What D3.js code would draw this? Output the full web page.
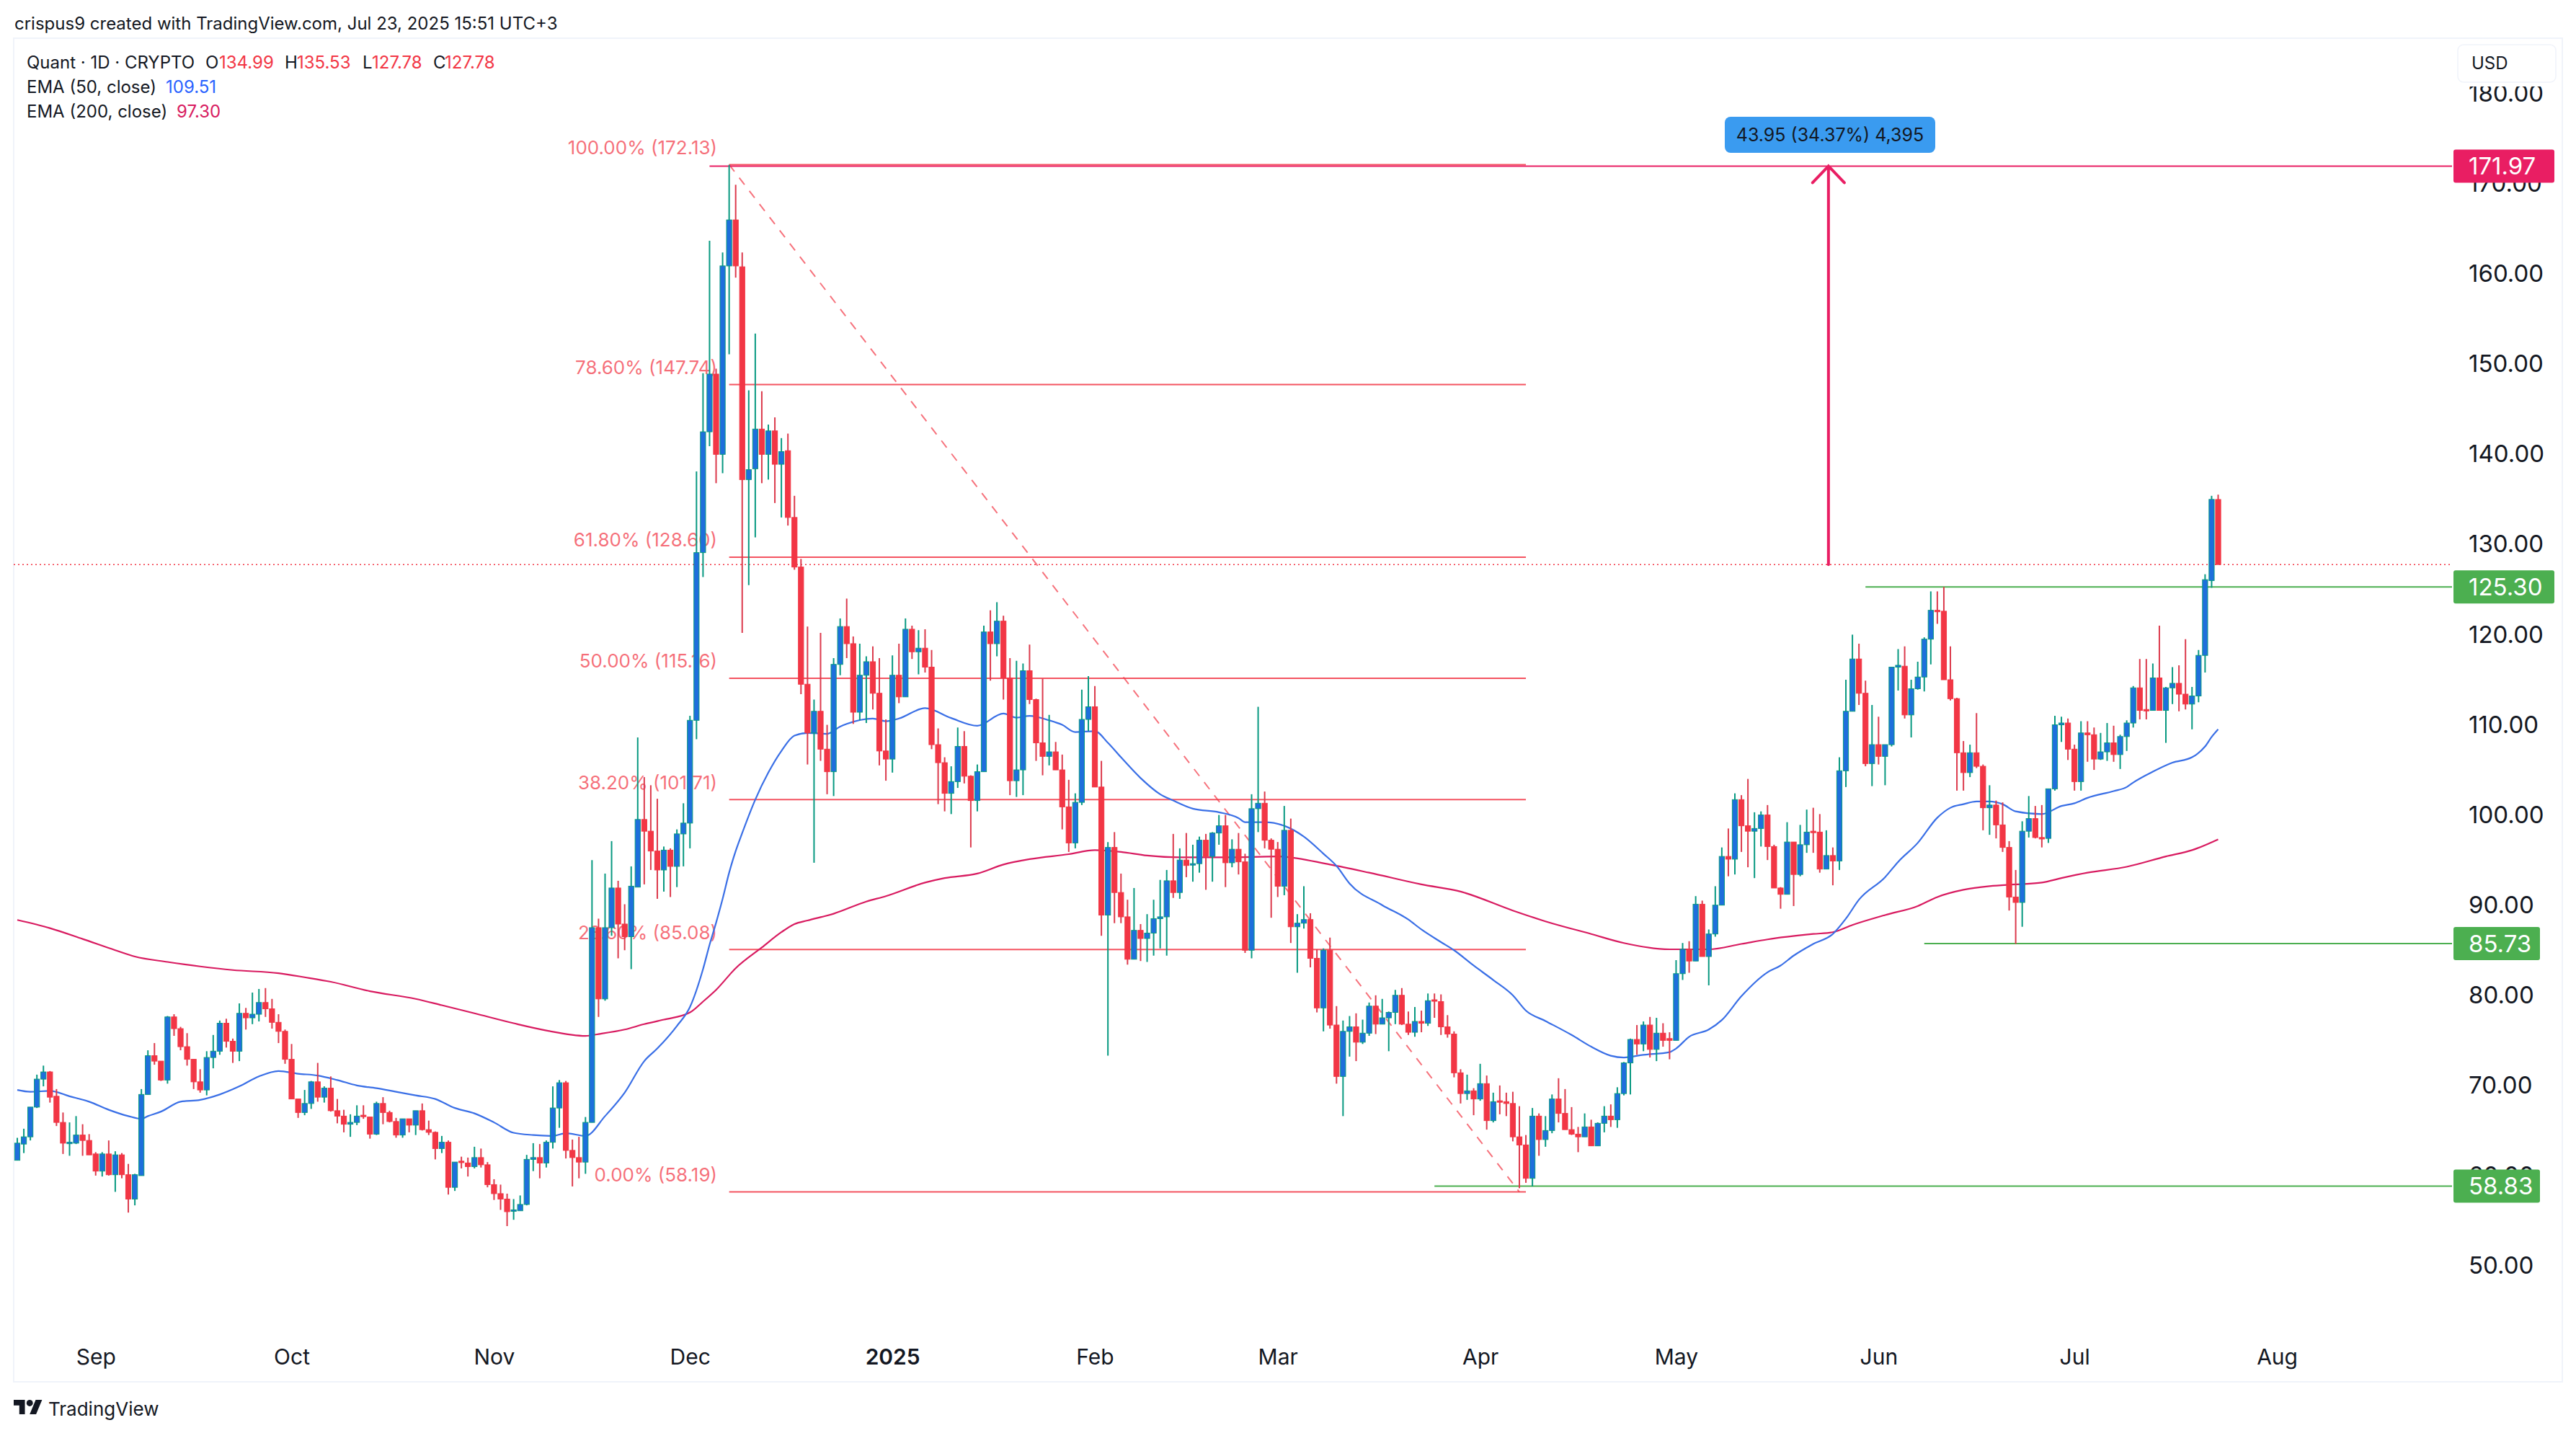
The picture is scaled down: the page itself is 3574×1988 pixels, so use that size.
<!DOCTYPE html>
<html>
<head>
<meta charset="utf-8">
<title>Quant 1D</title>
<script src="https://cdn.jsdelivr.net/npm/d3@7/dist/d3.min.js"></script>
<style>
  html, body { margin: 0; padding: 0; background: #fff; }
  svg { display: block; font-family: Inter, Roboto, sans-serif; }
  .tick text { fill: #131722; }
</style>
</head>
<body>
<div id="chart"></div>
<script>
// Daily candles, first bar is Aug 20 2024, last is Jul 23 2025
var firstDay = new Date(Date.UTC(2024, 7, 20));

var opens = [
  61.7,63.5,64.3,67.6,70.7,71.5,68.8,65.9,63.6,63.6,64.5,63.9,62.4,60.5,62.4,60.1,62.3,60.1,57.4,60.0,
  69.0,73.3,72.7,70.6,77.6,76.3,74.3,72.9,70.4,69.5,73.1,73.8,76.9,74.9,73.8,78.0,77.5,77.9,79.2,78.5,
  77.0,76.0,72.9,68.5,67.0,68.0,70.4,68.7,69.7,67.2,66.6,65.7,65.9,66.7,66.5,64.6,68.0,67.0,66.0,64.5,
  66.3,65.6,67.2,65.1,64.8,63.0,63.7,58.7,61.6,61.4,61.0,62.0,61.2,59.0,58.0,57.4,56.1,56.1,56.8,61.8,
  62.0,61.4,63.7,67.5,70.3,62.8,62.0,61.5,65.9,87.5,79.6,87.5,91.9,87.9,86.5,92.0,99.5,98.2,96.0,93.9,
  96.1,94.3,97.9,99.1,110.5,129.1,142.5,148.9,140.0,160.9,166.0,160.8,137.2,138.4,142.8,140.0,142.6,138.9,140.4,133.0,
  127.5,114.5,109.1,111.5,107.3,104.8,116.7,120.9,119.0,111.4,115.5,117.0,113.5,107.1,106.2,115.5,113.1,120.6,118.1,118.5,
  116.4,107.8,105.8,102.4,103.7,107.6,104.3,101.6,104.8,120.3,119.0,121.5,115.2,103.8,105.0,116.0,112.8,108.0,106.5,107.0,
  105.0,100.9,96.9,101.4,110.6,112.0,103.1,88.9,96.4,91.4,88.7,84.0,87.2,86.3,86.9,88.5,88.7,92.7,91.4,95.0,
  94.5,94.6,97.2,95.4,98.0,98.8,94.7,96.2,94.8,85.0,100.7,101.3,97.2,96.2,92.1,98.3,87.6,88.0,88.4,84.1,
  78.6,85.0,76.7,71.0,76.0,76.5,74.8,75.8,78.8,76.8,77.5,78.1,80.0,76.8,75.9,77.1,76.9,79.5,79.3,76.5,
  75.7,71.4,69.1,69.4,68.5,70.2,66.1,68.3,68.2,68.0,64.3,63.4,59.7,66.6,64.0,65.0,68.5,66.9,65.1,64.6,
  64.3,65.4,63.3,65.8,66.6,66.2,69.1,72.5,75.1,74.6,76.7,74.0,75.8,75.2,75.0,82.4,85.1,83.8,90.1,84.3,
  86.8,90.0,95.4,95.1,101.7,98.8,98.2,98.5,100.0,96.5,91.9,91.2,97.0,93.4,96.7,98.2,98.1,94.0,95.5,94.9,
  104.9,111.5,117.3,113.5,105.7,107.8,106.5,107.8,116.4,116.5,111.1,114.0,115.3,119.5,122.7,122.6,115.0,112.9,106.9,104.7,
  106.9,105.4,100.8,101.1,98.9,96.4,90.9,90.3,98.2,99.6,97.5,97.4,102.9,110.0,110.2,107.3,103.7,109.1,108.9,106.2,
  107.0,108.0,106.7,108.7,110.2,114.1,111.7,111.6,115.2,111.6,114.1,114.6,113.4,112.3,113.2,117.7,126.0,134.99
];

var highs = [
  64.2,65.2,67.6,71.2,72.2,71.6,69.6,67.0,65.9,66.6,65.7,64.6,62.6,62.6,63.9,62.7,62.5,61.3,60.2,69.6,
  73.9,74.7,72.7,77.7,77.9,76.5,75.8,72.9,71.8,73.8,75.6,77.2,77.4,75.2,79.1,78.6,80.3,80.7,80.8,79.6,
  77.9,76.2,74.6,68.5,69.5,70.5,72.5,69.9,71.0,68.5,67.3,66.8,67.8,67.8,66.5,68.2,68.7,67.2,66.4,66.3,
  66.3,67.2,68.0,66.1,64.9,64.4,63.9,61.5,62.1,62.0,63.2,63.0,61.5,59.6,59.0,58.0,57.4,57.8,62.3,63.6,
  63.5,63.9,69.9,70.6,70.5,64.0,64.3,66.5,95.0,88.5,93.5,97.1,92.7,90.1,94.3,108.6,104.2,103.3,101.8,96.5,
  96.3,98.4,101.3,111.0,138.1,149.0,163.7,149.5,162.4,172.1,169.9,162.4,147.1,153.4,147.0,143.3,144.1,141.8,142.3,135.4,
  128.4,120.9,112.8,120.2,110.0,117.4,121.8,124.0,119.8,119.0,117.6,118.7,117.4,110.6,117.7,119.0,121.8,121.0,120.5,120.6,
  118.3,109.6,106.4,105.4,109.7,109.3,104.4,105.6,121.0,122.7,123.6,122.1,117.4,117.1,116.8,118.9,112.9,115.1,111.1,108.1,
  106.7,103.9,102.4,113.9,115.4,114.3,106.0,97.0,98.1,93.5,90.6,91.9,87.9,89.0,90.6,92.8,93.9,97.9,96.3,98.0,
  96.7,97.6,97.9,98.1,100.0,100.0,97.3,98.0,95.7,102.3,112.0,102.6,97.4,97.0,101.0,99.6,89.0,92.1,89.1,85.1,
  85.2,86.4,78.8,77.2,77.7,78.0,77.3,79.2,80.0,79.6,78.2,80.6,80.8,78.2,78.7,78.3,80.2,80.2,80.1,77.8,
  76.0,71.8,71.2,69.7,72.4,71.1,69.2,70.0,69.2,69.3,67.7,64.5,67.5,66.9,66.6,69.0,70.8,69.6,67.6,65.4,
  66.9,66.2,65.9,67.7,67.9,69.8,72.6,75.2,76.7,77.1,77.6,77.5,76.9,75.9,83.9,85.8,86.0,91.0,90.5,87.3,
  92.1,96.4,98.5,102.4,102.2,104.0,100.3,100.4,101.1,96.7,92.0,99.2,97.0,98.9,100.6,100.8,100.1,98.3,96.4,106.4,
  115.0,120.0,119.0,114.9,112.2,110.9,107.8,116.4,118.4,118.7,115.0,117.0,119.7,124.8,124.8,125.3,118.7,113.0,108.2,107.8,
  111.3,105.6,103.3,101.6,101.4,97.1,93.9,99.3,102.1,101.0,101.1,102.9,111.0,110.9,110.7,107.8,110.4,110.4,109.7,109.1,
  110.2,109.9,108.9,110.5,114.3,117.3,117.3,116.8,121.0,114.2,116.4,116.6,119.5,114.2,118.3,126.7,135.4,135.53
];

var lows = [
  61.7,62.5,63.9,67.5,69.9,68.1,65.5,62.4,62.2,63.5,62.2,62.3,60.0,59.9,60.0,58.2,59.7,55.9,56.7,60.0,
  69.0,72.3,70.5,70.2,75.5,73.9,72.2,69.6,69.2,68.9,71.9,73.4,74.2,72.5,72.7,76.2,76.8,77.1,77.6,76.3,
  74.7,72.4,68.5,66.4,66.7,67.4,68.2,68.1,67.1,65.8,64.8,64.3,65.6,66.3,64.1,64.5,65.7,65.9,64.2,64.2,
  64.8,64.5,65.0,64.5,61.8,62.5,57.9,58.3,60.8,59.9,60.8,60.9,58.7,57.3,56.2,54.4,55.1,56.1,56.7,60.5,
  59.7,60.9,63.0,65.3,61.9,58.8,59.7,60.2,65.9,77.6,79.4,86.6,84.1,85.0,82.9,92.0,92.3,93.9,90.7,91.5,
  90.9,92.0,94.3,96.3,108.4,126.4,140.9,136.8,137.9,151.1,159.6,120.2,125.5,130.8,136.8,137.2,134.6,133.0,132.1,127.2,
  113.4,105.6,94.7,106.0,102.3,102.1,115.5,117.4,110.1,110.5,110.2,111.7,105.5,103.8,104.7,112.4,113.1,117.3,115.6,115.8,
  107.3,101.2,100.4,100.1,103.0,103.5,96.4,100.4,104.8,114.9,117.6,112.8,102.2,102.0,102.2,112.3,106.0,104.4,105.5,105.0,
  98.4,95.9,96.3,101.1,109.3,103.1,86.6,73.3,88.0,88.0,83.4,84.0,83.8,83.7,84.4,85.2,84.4,90.8,90.7,93.1,
  92.6,93.6,91.7,92.6,96.7,92.0,94.2,93.4,84.7,84.1,98.1,96.3,88.6,90.9,91.1,85.8,82.5,87.4,83.1,78.1,
  76.0,76.3,70.2,66.6,73.2,72.7,74.6,75.5,75.7,76.8,73.8,76.8,76.7,75.6,75.4,75.9,76.6,77.5,75.6,75.3,
  70.9,68.0,68.4,66.7,68.3,65.1,65.9,66.8,66.6,63.8,58.6,59.2,58.8,62.2,63.2,64.7,65.9,65.1,64.5,62.6,
  64.3,63.3,63.3,64.8,65.4,65.3,68.9,69.0,73.4,73.8,73.1,72.7,74.3,72.9,75.0,81.7,82.5,83.8,84.3,81.1,
  86.5,90.0,93.2,93.4,95.9,94.2,93.0,96.5,95.0,91.9,89.6,91.2,89.9,93.2,95.8,95.8,93.6,94.0,92.2,93.9,
  103.1,111.5,112.2,105.4,103.2,105.6,103.3,107.6,113.8,110.7,108.6,113.9,113.7,116.7,121.2,115.0,112.7,102.7,102.7,104.2,
  105.2,98.3,97.8,97.4,95.9,89.4,85.7,87.6,97.5,97.4,96.4,96.9,102.7,108.1,106.1,102.7,102.7,105.9,105.0,106.1,
  106.0,105.9,105.1,107.1,109.7,110.6,110.6,111.6,111.6,108.0,112.3,111.5,111.7,109.5,112.5,115.8,125.2,127.78
];

var closes = [
  63.6,64.3,67.6,70.7,71.5,68.7,65.9,63.6,63.7,64.5,63.9,62.3,60.5,62.4,60.1,62.3,60.1,57.4,60.1,69.0,
  73.3,72.7,70.6,77.6,76.3,74.3,72.9,70.4,69.5,73.1,73.8,76.9,74.9,73.8,78.0,77.5,77.9,79.2,78.5,77.0,
  76.0,72.9,68.5,67.0,68.0,70.4,68.7,69.7,67.2,66.6,65.7,65.9,66.6,66.6,64.6,68.0,67.0,66.0,64.5,66.3,
  65.6,67.2,65.1,64.8,63.0,63.7,58.7,61.5,61.5,61.0,62.0,61.2,59.0,58.0,57.4,56.0,56.2,56.8,61.8,62.0,
  61.4,63.7,67.5,70.3,62.8,62.0,61.5,65.9,87.5,79.6,87.5,91.9,87.9,86.5,92.1,99.5,98.2,96.0,93.9,96.1,
  94.3,97.9,99.1,110.5,129.1,142.5,148.9,140.0,160.9,166.0,160.9,137.2,138.3,142.8,140.0,142.6,138.9,140.3,133.0,127.5,
  114.5,109.1,111.5,107.3,104.8,116.7,120.9,119.0,111.4,115.5,117.0,113.5,107.1,106.2,115.5,113.1,120.6,118.1,118.5,116.4,
  107.8,105.8,102.4,103.7,107.6,104.3,101.6,104.8,120.3,119.0,121.5,115.2,103.8,105.0,116.0,112.8,108.0,106.5,107.0,105.0,
  100.9,96.9,101.4,110.6,112.0,103.1,88.9,96.4,91.4,88.7,84.0,87.2,86.3,86.9,88.5,88.7,92.7,91.4,95.0,94.4,
  94.6,97.2,95.4,98.0,98.8,94.7,96.2,94.8,85.0,100.7,101.3,97.2,96.2,92.1,98.3,87.6,88.0,88.4,84.1,78.6,
  85.0,76.7,71.0,76.0,76.5,74.8,75.8,78.8,76.8,77.5,78.1,80.0,76.8,75.9,77.1,76.9,79.4,79.4,76.5,75.7,
  71.4,69.1,69.4,68.5,70.2,66.1,68.2,68.2,68.0,64.3,63.4,59.7,66.6,64.0,65.0,68.5,66.9,65.1,64.6,64.3,
  65.4,63.3,65.8,66.6,66.2,69.1,72.5,75.1,74.6,76.7,74.0,75.8,75.0,75.0,82.4,85.1,83.8,90.1,84.3,86.8,
  90.0,95.4,95.1,101.7,98.8,98.2,98.5,100.0,96.5,91.9,91.2,97.0,93.4,96.7,98.1,98.1,94.0,95.5,94.9,104.9,
  111.5,117.3,113.5,105.7,107.8,106.5,107.8,116.4,116.6,111.1,114.0,115.3,119.5,122.7,122.6,115.0,112.9,106.9,104.7,106.9,
  105.4,100.8,101.1,98.9,96.4,90.9,90.3,98.2,99.6,97.5,97.4,102.9,110.0,110.2,107.3,103.7,109.1,108.9,106.2,107.0,
  108.0,106.7,108.7,110.2,114.1,111.6,111.6,115.2,111.6,114.1,114.6,113.4,112.3,113.2,117.7,126.1,135.0,127.78
];

// EMA lines, read at these bar numbers
var ema50Bars = [0,2,5,8,11,14,17,19,20,22,25,28,31,34,37,40,43,46,49,52,55,58,61,64,67,70,73,76,79,82,84,87,90,93,96,98,101,103,105,106,107,108,109,110,111,113,115,117,119,121,124,126,127,131,133,135,139,143,147,151,153,155,158,160,162,165,167,169,172,175,177,180,184,187,188,191,194,197,200,202,204,209,213,215,218,220,223,226,229,231,234,238,241,244,246,249,253,254,256,259,261,264,268,270,272,275,278,280,282,286,288,291,294,296,298,300,302,304,306,310,313,315,317,321,323,324,327,330,333,335,336,337];
var ema50Values = [69.5,69.3,69.4,68.8,68.2,67.3,66.6,66.3,66.6,67.1,68.2,68.4,69.0,69.9,71.0,71.6,71.3,71.1,70.6,70.0,69.7,69.3,68.9,68.5,67.5,66.9,65.9,64.75,64.5,64.4,64.7,64.4,66.6,69.2,72.7,74.1,76.6,78.7,82.9,85.6,88.05,90.7,93.6,96.0,98.0,101.7,104.7,107.1,108.8,109.1,109,109.8,110.1,110.7,110.4,110.7,111.85,110.75,109.9,111.25,110.8,111,110.5,110,109.2,109.3,108,106.4,104.1,102.3,101.6,100.7,100.3,99.65,99.2,99.2,98.8,97.6,95.7,94.35,92.4,90,88.4,87.3,85.9,85,83.3,81.7,80,78.3,77.15,75.6,74.3,73.3,73.1,73.4,73.7,74.1,75.4,76.2,77.25,79.9,82.55,83.3,84.4,85.7,86.8,88.5,90.6,93.1,94.8,96.9,99.7,100.8,101.2,101.5,101.5,101.2,100.4,100.1,101,101.3,101.9,102.65,103.1,103.6,104.8,105.8,106.4,107.6,108.65,109.51];
var ema200Bars = [0,5,10,15,18,23,28,33,40,44,48,54,61,65,70,76,81,87,89,93,96,99,103,105,107,110,114,117,119,121,125,130,133,139,142,147,151,155,161,165,169,173,178,185,193,201,207,215,221,229,234,241,246,253,259,264,268,275,278,281,286,291,294,298,302,306,310,313,317,323,329,333,337];
var ema200Values = [88.36,87.45,86.25,85,84.3,83.7,83.2,82.8,82.45,82,81.5,80.45,79.6,78.9,78,76.9,76.1,75.5,75.7,76.2,76.8,77.3,78.1,79.3,80.6,83.0,85.3,87.0,87.9,88.3,89.05,90.4,91,92.5,93,93.5,94.5,95.1,95.65,96.1,95.9,95.5,95.3,95.3,95.4,94.5,93.6,92.3,91.5,89.4,88.2,86.8,85.8,85.1,85.1,85.7,86.2,86.8,87,87.8,88.9,89.9,90.9,91.7,92.1,92.3,92.5,93,93.6,94.25,95.4,96.1,97.3];

// Fib retracement drawn from the Dec high to the Apr low
var fibPercents = ["100.00%", "78.60%", "61.80%", "50.00%", "38.20%", "23.60%", "0.00%"];
var fibPrices = [172.13, 147.74, 128.60, 115.16, 101.71, 85.08, 58.19];
var fibStartBar = 109, fibEndBar = 230, fibRightBar = 231;

// Horizontal levels with a price tag on the axis
var levelPrices = [171.97, 125.30, 85.73, 58.83];
var levelStartBars = [106, 283, 292, 217];
var levelKinds = ["pink", "green", "green", "green"];

var lastPrice = 127.78;
var measureBar = 277;
var measureText = "43.95 (34.37%) 4,395";

var priceTicks = [50, 60, 70, 80, 90, 100, 110, 120, 130, 140, 150, 160, 170, 180];
var monthTicks = [
  [2024, 8, "Sep"], [2024, 9, "Oct"], [2024, 10, "Nov"], [2024, 11, "Dec"], [2025, 0, "2025"], [2025, 1, "Feb"],
  [2025, 2, "Mar"], [2025, 3, "Apr"], [2025, 4, "May"], [2025, 5, "Jun"], [2025, 6, "Jul"], [2025, 7, "Aug"]
];

var UP = "#1e6fdc", UP_WICK = "#089981", DOWN = "#f23645", DOWN_WICK = "#dc3a4c";
var EMA50 = "#3a6fe6", EMA200 = "#d81b60", PINK = "#e91e63", GREEN = "#4caf50", FIB = "#f23645", TEXT = "#131722";
var levelColors = { pink: PINK, green: GREEN };

var width = 3574, height = 1988;
var frame = { left: 19, top: 53, right: 3555, bottom: 1917 };
var lineEnd = 3402, tagLeft = 3404;

function barDate(i) { return d3.utcDay.offset(firstDay, i); }

// Scales, fixed so that bar 0 and bar 337 fall on the reference's positions
var x = d3.scaleUtc().domain([barDate(0), barDate(337)]).range([24, 3077.5]);
var y = d3.scaleLinear().domain([50, 180]).range([1756, 130]);
function xBar(i) { return x(barDate(i)); }

var svg = d3.select("#chart")
    .append("svg")
    .attr("width", width)
    .attr("height", height);

svg.append("rect").attr("width", width).attr("height", height).attr("fill", "#fff");

svg.append("rect")
    .attr("x", frame.left)
    .attr("y", frame.top)
    .attr("width", frame.right - frame.left)
    .attr("height", frame.bottom - frame.top)
    .attr("fill", "none")
    .attr("stroke", "#f0f3fa")
    .attr("stroke-width", 2);

// Axes
var yAxis = svg.append("g")
    .attr("transform", "translate(3425,0)")
    .call(d3.axisRight(y).tickValues(priceTicks).tickSize(0).tickPadding(0).tickFormat(d3.format(".2f")));
yAxis.select(".domain").remove();
yAxis.selectAll("text").style("font-size", "33px").style("font-family", "Inter");

var xAxis = svg.append("g")
    .attr("transform", "translate(0,1882)")
    .call(d3.axisBottom(x)
        .tickValues(monthTicks.map(function (d) { return new Date(Date.UTC(d[0], d[1], 1)); }))
        .tickSize(0)
        .tickPadding(0)
        .tickFormat(function (d, i) { return monthTicks[i][2]; }));
xAxis.select(".domain").remove();
xAxis.selectAll("text")
    .attr("dy", "0.36em")
    .attr("y", 0)
    .style("font-size", "30px")
    .style("font-family", "Inter")
    .style("font-weight", function (d, i) { return monthTicks[i][2] === "2025" ? 600 : 400; });

// Everything below sits behind the candles: fib, levels, price line, emas
var fib = svg.append("g");
fib.selectAll("text")
    .data(fibPrices)
    .enter()
    .append("text")
    .attr("x", 995)
    .attr("y", function (d) { return y(d) - 24; })
    .attr("dy", "0.36em")
    .attr("text-anchor", "end")
    .attr("fill", FIB)
    .attr("fill-opacity", 0.72)
    .style("font-size", "26px")
    .text(function (d, i) { return fibPercents[i] + " (" + d.toFixed(2) + ")"; });

fib.selectAll("line.level")
    .data(fibPrices)
    .enter()
    .append("line")
    .attr("class", "level")
    .attr("x1", xBar(fibStartBar))
    .attr("x2", xBar(fibRightBar))
    .attr("y1", function (d) { return y(d); })
    .attr("y2", function (d) { return y(d); })
    .attr("stroke", FIB)
    .attr("stroke-opacity", 0.85)
    .attr("stroke-width", 2);

fib.append("line")
    .attr("x1", xBar(fibStartBar))
    .attr("y1", y(fibPrices[0]))
    .attr("x2", xBar(fibEndBar))
    .attr("y2", y(fibPrices[6]))
    .attr("stroke", FIB)
    .attr("stroke-opacity", 0.7)
    .attr("stroke-width", 2)
    .attr("stroke-dasharray", "12 11");

// Last price dotted line
svg.append("line")
    .attr("x1", frame.left)
    .attr("x2", lineEnd)
    .attr("y1", y(lastPrice))
    .attr("y2", y(lastPrice))
    .attr("stroke", DOWN)
    .attr("stroke-width", 1.5)
    .attr("stroke-dasharray", "2 4");

svg.append("g").selectAll("line")
    .data(levelPrices)
    .enter()
    .append("line")
    .attr("x1", function (d, i) { return xBar(levelStartBars[i]); })
    .attr("x2", lineEnd)
    .attr("y1", function (d) { return y(d); })
    .attr("y2", function (d) { return y(d); })
    .attr("stroke", function (d, i) { return levelColors[levelKinds[i]]; })
    .attr("stroke-width", 2);

function drawEma(bars, values, color) {
    var line = d3.line()
        .x(function (d) { return xBar(d); })
        .y(function (d, i) { return y(values[i]); })
        .curve(d3.curveMonotoneX);
    svg.append("path")
        .attr("d", line(bars))
        .attr("fill", "none")
        .attr("stroke", color)
        .attr("stroke-width", 2.2);
}
drawEma(ema200Bars, ema200Values, EMA200);
drawEma(ema50Bars, ema50Values, EMA50);

// Candles
var bars = svg.append("g").selectAll("g")
    .data(closes)
    .enter()
    .append("g");

bars.append("line")
    .attr("x1", function (d, i) { return xBar(i); })
    .attr("x2", function (d, i) { return xBar(i); })
    .attr("y1", function (d, i) { return y(highs[i]); })
    .attr("y2", function (d, i) { return y(lows[i]); })
    .attr("stroke", function (d, i) { return d >= opens[i] ? UP_WICK : DOWN_WICK; })
    .attr("stroke-width", 2);

bars.append("rect")
    .attr("x", function (d, i) { return xBar(i) - 3.6; })
    .attr("width", 7.2)
    .attr("y", function (d, i) { return y(Math.max(d, opens[i])); })
    .attr("height", function (d, i) { return Math.max(2, Math.abs(y(d) - y(opens[i]))); })
    .attr("fill", function (d, i) { return d >= opens[i] ? UP : DOWN; })
    .attr("stroke", function (d, i) { return d >= opens[i] ? UP_WICK : DOWN; })
    .attr("stroke-width", 1);

// Measure arrow and its label
var arrowX = xBar(measureBar) + 3;
var tipY = y(levelPrices[0]);
svg.append("path")
    .attr("d", "M" + arrowX + "," + y(lastPrice) + "V" + tipY + "M" + (arrowX - 22) + "," + (tipY + 23) + "L" + arrowX + "," + tipY + "L" + (arrowX + 22) + "," + (tipY + 23))
    .attr("fill", "none")
    .attr("stroke", PINK)
    .attr("stroke-width", 4)
    .attr("stroke-linecap", "round");

svg.append("rect")
    .attr("x", 2393).attr("y", 162)
    .attr("width", 292).attr("height", 50)
    .attr("rx", 8)
    .attr("fill", "#3a9bf0");
svg.append("text")
    .attr("x", 2539).attr("y", 187)
    .attr("dy", "0.36em")
    .attr("text-anchor", "middle")
    .attr("fill", TEXT)
    .style("font-size", "25px")
    .text(measureText);

// Price tags on the axis, these cover the ticks underneath
var tags = svg.append("g").selectAll("g")
    .data(levelPrices)
    .enter()
    .append("g")
    .attr("transform", function (d) { return "translate(" + tagLeft + "," + y(d) + ")"; });
tags.append("rect")
    .attr("y", -23)
    .attr("width", function (d) { return d >= 100 ? 140 : 120; })
    .attr("height", 46)
    .attr("rx", 3)
    .attr("fill", function (d, i) { return levelColors[levelKinds[i]]; });
tags.append("text")
    .attr("x", 21)
    .attr("dy", "0.36em")
    .attr("fill", "#fff")
    .style("font-size", "33px")
    .text(function (d) { return d.toFixed(2); });

// Currency button, white strip hides the top of the 180 label
svg.append("rect").attr("x", 3405).attr("y", 56).attr("width", 148).attr("height", 64).attr("fill", "#fff");
svg.append("rect")
    .attr("x", 3410).attr("y", 62)
    .attr("width", 136).attr("height", 52)
    .attr("rx", 8)
    .attr("fill", "#fff")
    .attr("stroke", "#f0f3fa")
    .attr("stroke-width", 1.5);
svg.append("text")
    .attr("x", 3429).attr("y", 87)
    .attr("dy", "0.36em")
    .attr("fill", TEXT)
    .style("font-size", "24px")
    .text("USD");

// Header and legend
function label(xPos, yPos, text, color, size) {
    svg.append("text")
        .attr("x", xPos).attr("y", yPos)
        .attr("dy", "0.36em")
        .attr("fill", color)
        .style("font-size", size + "px")
        .text(text);
}
label(20, 32, "crispus9 created with TradingView.com, Jul 23, 2025 15:51 UTC+3", TEXT, 24);
label(37, 86, "Quant · 1D · CRYPTO", TEXT, 24);
label(285, 86, "O", TEXT, 24);
label(304, 86, "134.99", DOWN, 24);
label(395, 86, "H", TEXT, 24);
label(412, 86, "135.53", DOWN, 24);
label(503, 86, "L", TEXT, 24);
label(516, 86, "127.78", DOWN, 24);
label(601, 86, "C", TEXT, 24);
label(617, 86, "127.78", DOWN, 24);
label(37, 120, "EMA (50, close)", TEXT, 24);
label(230, 120, "109.51", "#2962ff", 24);
label(37, 154, "EMA (200, close)", TEXT, 24);
label(245, 154, "97.30", EMA200, 24);

// TradingView mark at the bottom left
svg.append("g")
    .attr("transform", "translate(19,1937.6) scale(1.11)")
    .call(function (g) {
        g.append("path").attr("d", "M14 22H7V11H0V4h14v18zM28 22h-8l7.5-18h8L28 22z").attr("fill", TEXT);
        g.append("circle").attr("cx", 20).attr("cy", 8).attr("r", 4).attr("fill", TEXT);
    });
label(67, 1955, "TradingView", TEXT, 26);
</script>
</body>
</html>
